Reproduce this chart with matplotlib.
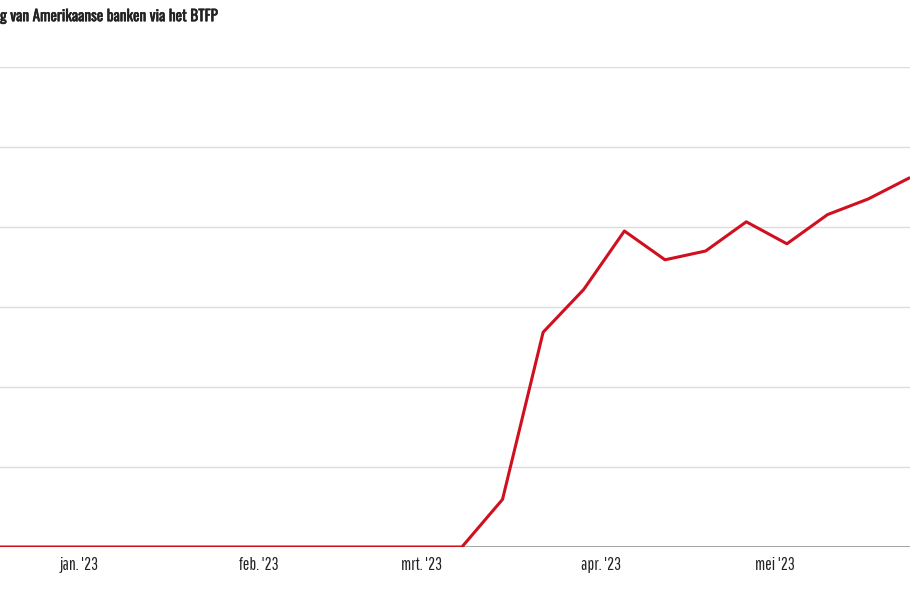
import numpy as np
import pandas as pd
import matplotlib.pyplot as plt
import matplotlib.patheffects as pe

# BTFP-leningen, wekelijks (woensdag), in miljard dollar
dates = pd.date_range("2022-12-14", "2023-05-24", freq="7D")
values = [0, 0, 0, 0, 0, 0, 0, 0, 0, 0, 0, 0, 0,
          11.9, 53.7, 64.4, 79.0, 71.8, 74.0, 81.3, 75.8, 83.1, 87.0, 92.2]
month_ticks = pd.to_datetime(["2023-01-01", "2023-02-01", "2023-03-01",
                              "2023-04-01", "2023-05-01"])
month_labels = ["jan. '23", "feb. '23", "mrt. '23", "apr. '23", "mei '23"]
title = "g van Amerikaanse banken via het BTFP"

plt.rcParams['font.family'] = ['Oswald', 'DejaVu Sans']

fig = plt.figure(figsize=(9.1, 5.96), dpi=100)
ax = fig.add_axes([0, 49 / 596, 1, (547 - 67) / 596])

for y in range(20, 121, 20):
    ax.axhline(y, color='#dcdcdc', lw=1, zorder=1)
ax.axhline(0, color='#9a9a9a', lw=2, zorder=2)

ax.plot(dates, values, color='#d0101f', lw=2.2, zorder=3)

ax.set_ylim(0, 120)
ax.set_xlim(pd.Timestamp("2022-12-18 10:00"), pd.Timestamp("2023-05-24 05:00"))
ax.set_xticks(month_ticks)
ax.set_xticklabels(month_labels, fontsize=12.5, color='#222222',
                   family=['Pathway Gothic One', 'DejaVu Sans'])
ax.tick_params(axis='x', length=0, pad=7)
ax.set_yticks([])
for s in ax.spines.values():
    s.set_visible(False)

fig.text(0.0, 0.972, title, fontsize=11, color='#222222', ha='left', va='center',
         path_effects=[pe.withStroke(linewidth=0.4, foreground='#222222')])

fig.savefig("out.png", dpi=100, facecolor='white')
